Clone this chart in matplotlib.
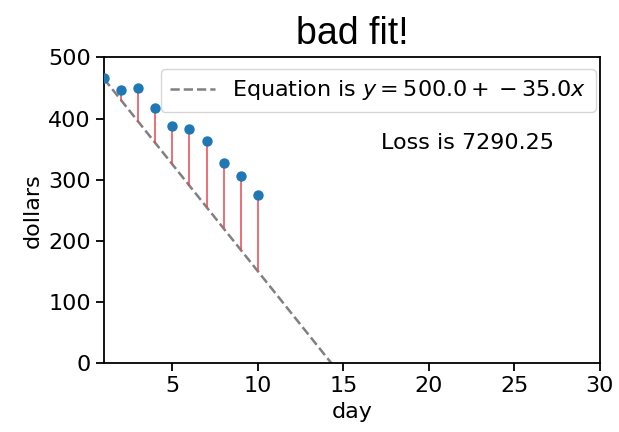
import numpy as np
import matplotlib
matplotlib.use('Agg')
import matplotlib.pyplot as plt

# daily prices and a hand-picked line
days = [1, 2, 3, 4, 5, 6, 7, 8, 9, 10]
dollars = [465.6, 447.5, 450.3, 417.5, 388.5, 383.0, 363.4, 327.3, 305.4, 275.4]
intercept = 500.0
slope = -35.0
loss_text = 'Loss is 7290.25'

days = np.array(days)
dollars = np.array(dollars)
pred = intercept + slope * days

fig = plt.figure(figsize=(6.19, 4.32), dpi=100)
ax = fig.add_axes([0.168, 0.160, 0.801, 0.707])

xs = np.linspace(1, 30, 200)
ax.plot(xs, intercept + slope * xs, '--', color='gray', lw=1.8,
        label=f'Equation is $y = {intercept} + {slope}x$')
ax.vlines(days, pred, dollars, color='#e8474f', lw=1.1)
ax.scatter(days, dollars, s=42, color='#1f77b4', zorder=3)

ax.text(17.2, 360, loss_text, fontsize=16, va='center')

ax.set_xlim(1, 30)
ax.set_ylim(0, 500)
ax.set_xticks([5, 10, 15, 20, 25, 30])
ax.set_yticks([0, 100, 200, 300, 400, 500])
ax.tick_params(labelsize=16, width=1.3, length=6)
for s in ax.spines.values():
    s.set_linewidth(1.3)
ax.set_xlabel('day', fontsize=16)
ax.set_ylabel('dollars', fontsize=16)
ax.set_title('bad fit!', fontsize=27, family='Liberation Sans', pad=10)
ax.legend(loc='upper right', bbox_to_anchor=(0.992, 0.962), fontsize=16,
          handlelength=2.0, borderaxespad=0.0, borderpad=0.42)

fig.savefig('out.png', dpi=100)
